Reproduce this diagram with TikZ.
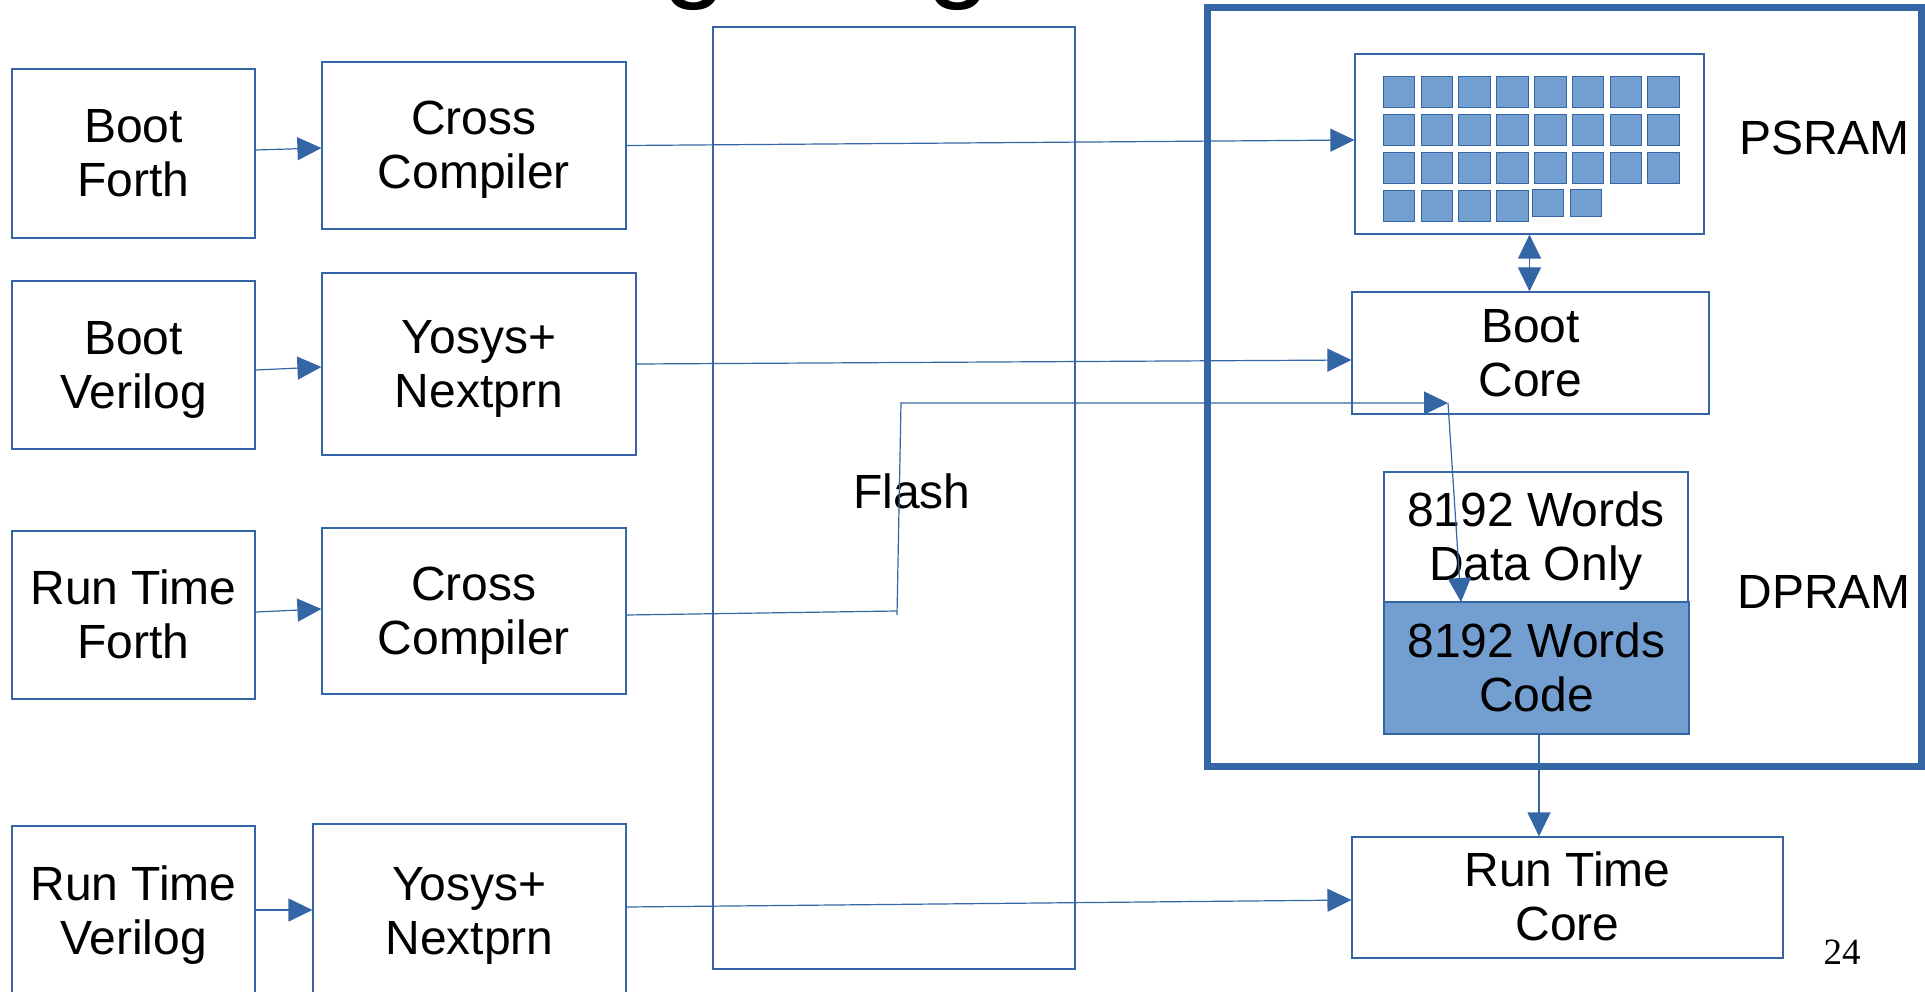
\documentclass[tikz,border=0pt]{standalone}
\usepackage{fontspec}
\setmainfont{Liberation Sans}
\newfontfamily\pagenumfont{Liberation Serif}
\usetikzlibrary{arrows.meta,calc}
\definecolor{lineblue}{HTML}{3465A4}
\definecolor{tileblue}{HTML}{729FCF}
\tikzset{bigtip/.tip={Triangle[length=24pt,width=23pt]}}
% uniform line box: 43pt above the baseline, 11pt below
\newcommand{\lnstrut}{\rule[-11pt]{0pt}{54pt}}

\begin{document}
\begin{tikzpicture}[x=1pt,y=-1pt,
  box/.style={draw=lineblue,line width=1.2pt,inner sep=0pt,align=center,
    font=\fontsize{48}{54}\selectfont},
  lbl/.style={inner sep=0pt,anchor=base,font=\fontsize{48}{54}\selectfont},
  conn/.style={draw=lineblue,line width=1.2pt,-{bigtip}},
  wire/.style={draw=lineblue,line width=1.2pt},
  tile/.style={draw=lineblue,line width=0.9pt,fill=tileblue}]

\useasboundingbox (0,0) rectangle (1925,992);
\clip (0,0) rectangle (1925,992);

% heading glyphs reaching down from above the page
\node[anchor=base,inner sep=0pt,font=\fontsize{116}{116}\selectfont] (h1) at (695,-13) {g};
\node[anchor=base,inner sep=0pt,font=\fontsize{116}{116}\selectfont] (h2) at (959,-13) {g};

% sources and tools
\node[box,minimum width=243pt,minimum height=169pt] (bf) at (133.5,153.5) {\lnstrut Boot\\\lnstrut Forth};
\node[box,minimum width=304pt,minimum height=167pt] (cc1) at (474,145.5) {\lnstrut Cross\\\lnstrut Compiler};
\node[box,minimum width=243pt,minimum height=168pt] (bv) at (133.5,365) {\lnstrut Boot\\\lnstrut Verilog};
\node[box,minimum width=314pt,minimum height=182pt] (ys1) at (479,364) {\lnstrut Yosys+\\\lnstrut Nextprn};
\node[box,minimum width=243pt,minimum height=168pt] (rf) at (133.5,615) {\lnstrut Run Time\\\lnstrut Forth};
\node[box,minimum width=304pt,minimum height=166pt] (cc2) at (474,611) {\lnstrut Cross\\\lnstrut Compiler};
\node[box,minimum width=243pt,minimum height=170pt] (rv) at (133.5,911) {\lnstrut Run Time\\\lnstrut Verilog};
\node[box,minimum width=313pt,minimum height=174pt] (ys2) at (469.5,911) {\lnstrut Yosys+\\\lnstrut Nextprn};

% flash
\node[box,minimum width=362pt,minimum height=942pt] (flash) at (894,498) {};
\node[lbl] (flashlbl) at (912,508) {Flash};

% FPGA frame
\draw[lineblue,line width=7pt] (1207,8) rectangle (1921.5,766.5);

% PSRAM block with its tiles
\node[box,minimum width=349pt,minimum height=180pt] (psram) at (1529.5,144) {};
\foreach \r in {0,1,2}
  \foreach \c in {0,...,7}
    \draw[tile] (1383.3+37.8*\c,76+38*\r) rectangle ++(31.5,31);
\foreach \c in {0,...,3}
  \draw[tile] (1383.3+37.8*\c,190) rectangle ++(31.5,31);
\draw[tile] (1532,189) rectangle (1563,216);
\draw[tile] (1570,189) rectangle (1601,216);
\node[lbl] (psramlbl) at (1824.5,155) {PSRAM};

% cores and DPRAM
\node[box,minimum width=357pt,minimum height=122pt] (bootcore) at (1530.5,353) {\lnstrut Boot\\\lnstrut Core};
\node[box,minimum width=304pt,minimum height=130pt] (data) at (1536,537) {\lnstrut 8192 Words\\\lnstrut Data Only};
\node[box,fill=tileblue,minimum width=305pt,minimum height=132pt] (code) at (1536.5,668) {\lnstrut 8192 Words\\\lnstrut Code};
\node[lbl] (dpramlbl) at (1824,608) {DPRAM};
\node[box,minimum width=431pt,minimum height=121pt] (rtcore) at (1567.5,897.5) {\lnstrut Run Time\\\lnstrut Core};

% page number
\node[inner sep=0pt,anchor=base,font=\pagenumfont\fontsize{37}{40}\selectfont] (pagenum) at (1842,964) {24};

% tool chain arrows
\draw[conn] ([yshift=3.5pt]bf.east) -- ([yshift=-2.5pt]cc1.west);
\draw[conn] ([yshift=-5pt]bv.east) -- ([yshift=-3pt]ys1.west);
\draw[conn] ([yshift=3pt]rf.east) -- ([yshift=2pt]cc2.west);
\draw[conn] ([yshift=1pt]rv.east) -- ([yshift=1pt]ys2.west);

\draw[conn] (cc1.east) -- ([yshift=4pt]psram.west);
\draw[conn] (ys1.east) -- ([yshift=-7pt]bootcore.west);
\draw[conn] ([yshift=4pt]ys2.east) -- ([yshift=-2.5pt]rtcore.west);

% run time code path through flash and the boot core
\coordinate (j1) at (897,611);
\coordinate (j0) at (897,615);
\coordinate (j2) at (901,403);
\coordinate (bcin) at (1448,403);
\coordinate (codein) at (1461,602);
\draw[wire] ([yshift=-4pt]cc2.east) -- (j1);
\draw[conn] (j0) -- (j2) -- (bcin);
\draw[conn] (bcin) -- (codein);

% memory ports
\draw[wire,{bigtip}-{bigtip}] (psram.south) -- (psram.south |- bootcore.north);
\draw[conn] ([xshift=2.5pt]code.south) -- ([xshift=2.5pt]code.south |- rtcore.north);

\end{tikzpicture}
\end{document}
